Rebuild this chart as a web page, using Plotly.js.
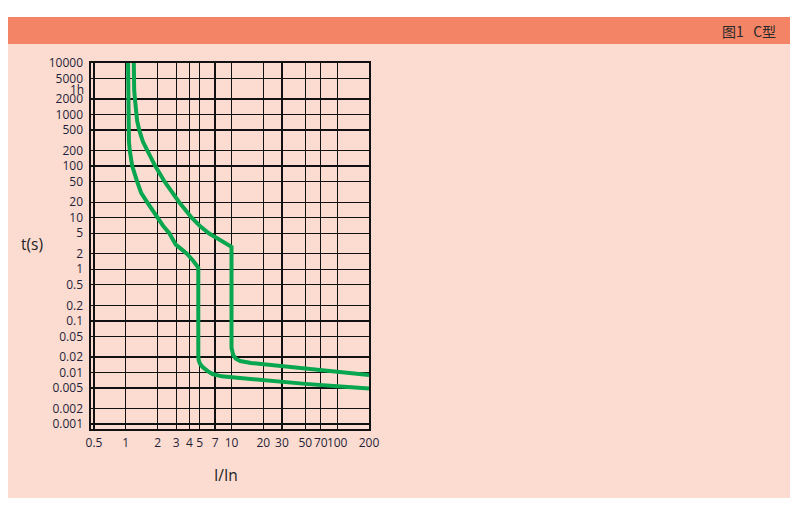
<!DOCTYPE html>
<html>
<head>
<meta charset="utf-8">
<script src="https://cdn.plot.ly/plotly-3.0.1.min.js"></script>
<style>html,body{margin:0;padding:0;background:#fff;}#chart{width:800px;height:515px;}</style>
</head>
<body>
<div id="chart"></div>
<script>
// ---- data ----
const chartTitle = "图1\u00a0\u00a0\u00a0C型";
const xTitle = "I/In";
const yTitle = "t(s)";

const xTickVals = [0.5, 1, 2, 3, 4, 5, 7, 10, 20, 30, 50, 70, 100, 200];
const xTickText = ["0.5", "1", "2", "3", "4", "5", "7", "10", "20", "30", "50", "70", "100", "200"];
const yTickVals = [0.001, 0.002, 0.005, 0.01, 0.02, 0.05, 0.1, 0.2, 0.5, 1, 2, 5, 10, 20, 50, 100, 200, 500, 1000, 2000, 5000, 10000];
const yTickText = ["0.001", "0.002", "0.005", "0.01", "0.02", "0.05", "0.1", "0.2", "0.5", "1", "2", "5", "10", "20", "50", "100", "200", "500", "1000", "2000", "5000", "10000"];
const hourLabel = "1h";
const hourValue = 3600;

// lower (minimum tripping time) curve
const lowerX = [1.05, 1.05, 1.05, 1.06, 1.07, 1.09, 1.15, 1.28, 1.40, 1.59, 1.97, 2.25, 2.58, 2.97, 3.40, 3.78, 4.30, 4.85, 4.85, 4.90, 5.05, 5.38, 6.0, 6.61, 8.05, 10.4, 19.2, 32.4, 50, 100, 200];
const lowerT = [10000, 3000, 1000, 500, 300, 200, 100, 50, 30, 20, 10, 7, 5, 3, 2.4, 2, 1.5, 1.08, 0.021, 0.017, 0.0145, 0.0125, 0.0105, 0.0093, 0.0084, 0.0080, 0.0072, 0.0064, 0.0060, 0.0054, 0.0049];

// upper (maximum tripping time) curve
const upperX = [1.19, 1.19, 1.20, 1.22, 1.25, 1.28, 1.34, 1.45, 1.60, 1.90, 2.33, 2.75, 3.2, 4.2, 5.0, 6.1, 7.58, 10, 10, 10.1, 10.4, 11.0, 12.1, 15.3, 19.2, 32.4, 50, 100, 200];
const upperT = [10000, 5000, 3000, 2000, 1000, 750, 500, 300, 200, 100, 50, 30, 20, 10, 7, 5, 3.75, 2.72, 0.030, 0.025, 0.0215, 0.0185, 0.0166, 0.0152, 0.0145, 0.0129, 0.0118, 0.0103, 0.0089];

// ---- layout helpers (pixel -> paper) ----
const L = 91, R = 369, T = 63, B = 429;
const px = x => (x - L) / (R - L);
const py = y => (B - y) / (B - T);

const green = "#07a64f";
const tickFont = {family: "Open Sans, Liberation Sans, sans-serif", size: 12, color: "#1f1f3a"};

const traces = [
  {x: lowerX, y: lowerT, mode: "lines", line: {color: green, width: 4}, hoverinfo: "skip", showlegend: false},
  {x: upperX, y: upperT, mode: "lines", line: {color: green, width: 4}, hoverinfo: "skip", showlegend: false}
];

const axisCommon = {
  type: "log",
  showgrid: true, gridcolor: "#111", gridwidth: 1.3,
  showline: true, linecolor: "#111", linewidth: 1.6, mirror: true,
  zeroline: false, ticks: "", tickmode: "array",
  tickfont: tickFont, fixedrange: true
};

const layout = {
  width: 800, height: 515,
  margin: {l: L, r: 800 - R, t: T, b: 515 - B, pad: 0},
  paper_bgcolor: "#ffffff",
  plot_bgcolor: "rgba(0,0,0,0)",
  showlegend: false,
  xaxis: Object.assign({}, axisCommon, {
    range: [Math.log10(0.5) - 3 / 105.69, Math.log10(200)],
    tickvals: xTickVals, ticktext: xTickText, tickangle: 0, ticklabelstandoff: 2
  }),
  yaxis: Object.assign({}, axisCommon, {
    range: [-3 - 5 / 51.57, 4],
    tickvals: yTickVals, ticktext: yTickText, ticklabelstandoff: 4
  }),
  shapes: [
    {type: "rect", xref: "paper", yref: "paper", layer: "below",
     x0: px(8), x1: px(790), y0: py(498), y1: py(44), fillcolor: "#fcdcd0", line: {width: 0}},
    {type: "rect", xref: "paper", yref: "paper", layer: "below",
     x0: px(8), x1: px(790), y0: py(44), y1: py(17), fillcolor: "#f38466", line: {width: 0}}
  ],
  annotations: [
    {xref: "paper", yref: "paper", x: px(778), y: py(31), xanchor: "right", yanchor: "middle",
     text: chartTitle, showarrow: false,
     font: {family: "Noto Sans CJK SC, sans-serif", size: 14, color: "#2a2a2a"}},
    {xref: "paper", yref: "y", x: 0, y: Math.log10(hourValue), xanchor: "right", yanchor: "middle",
     xshift: -5, yshift: -3.5, text: hourLabel, showarrow: false, font: tickFont},
    {xref: "paper", yref: "paper", x: px(32), y: py(244), xanchor: "center", yanchor: "middle",
     text: yTitle, showarrow: false,
     font: {family: "Open Sans, Liberation Sans, sans-serif", size: 15.5, color: "#222"}},
    {xref: "paper", yref: "paper", x: px(226), y: py(475), xanchor: "center", yanchor: "middle",
     text: xTitle, showarrow: false,
     font: {family: "Open Sans, Liberation Sans, sans-serif", size: 15.5, color: "#222"}}
  ]
};

Plotly.newPlot("chart", traces, layout, {staticPlot: true, displayModeBar: false});
</script>
</body>
</html>
